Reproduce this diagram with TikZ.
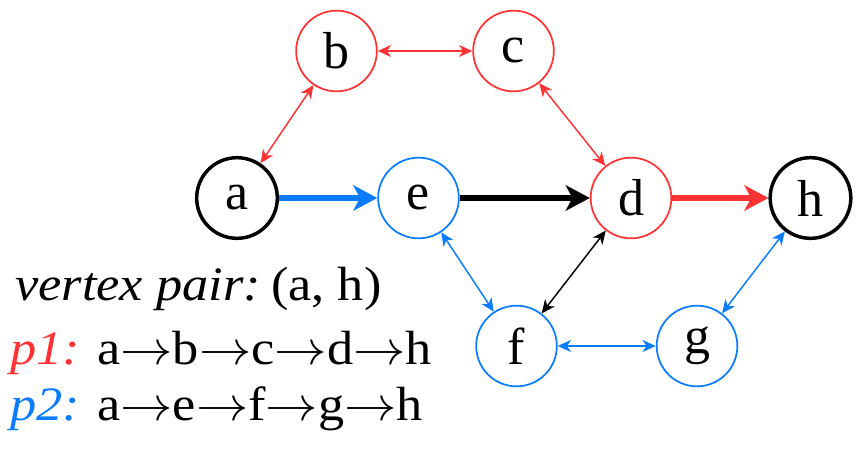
\documentclass[tikz,border=0pt]{standalone}
\usepackage{fontspec}
\setmainfont{Liberation Serif}
\usepackage{graphicx}
\usetikzlibrary{arrows.meta}
\definecolor{pred}{RGB}{255,51,51}
\definecolor{pblue}{RGB}{10,125,255}
\newcommand{\parrow}{\scalebox{3.6}{\fontsize{10}{12}\selectfont$\rightarrow$}}
\tikzset{
  vtx/.style={circle,draw,line width=1.3pt,minimum size=60.5pt,inner sep=0pt,font=\fontsize{39}{42}\selectfont},
  thickv/.style={vtx,line width=2.6pt},
  thin/.style={line width=1.1pt,{Stealth[length=10pt,width=9pt,inset=3pt]}-{Stealth[length=10pt,width=9pt,inset=3pt]}},
  fat/.style={line width=3.8pt,-{Stealth[length=18pt,width=19pt,inset=5pt]}},
  lbl/.style={anchor=base west,inner sep=0pt,font=\fontsize{36}{40}\selectfont}
}
\begin{document}
\begin{tikzpicture}[x=0.75pt,y=-0.75pt]
\useasboundingbox (0,0) rectangle (865,457);
\node[thickv] (a) at (237,198) {a};
\node[vtx,draw=pred] (b) at (336.5,51) {b};
\node[vtx,draw=pred] (c) at (513.5,51) {c};
\node[vtx,draw=pred] (d) at (631,198) {d};
\node[vtx,draw=pblue] (e) at (418.5,198) {e};
\node[vtx,draw=pblue] (f) at (516.5,346) {f};
\node[vtx,draw=pblue] (g) at (697,346) {g};
\node[thickv] (h) at (810.5,198) {h};
\draw[thin,pred] (a) -- (b);
\draw[thin,pred] (b) -- (c);
\draw[thin,pred] (c) -- (d);
\draw[thin,pblue] (e) -- (f);
\draw[thin,pblue] (f) -- (g);
\draw[thin,pblue] (g) -- (h);
\draw[thin,black] (d) -- (f);
\draw[fat,pblue] (a) -- (e);
\draw[fat,black] (e) -- (d);
\draw[fat,pred] (d) -- (h);
\node[lbl] (t1) at (15,300) {\scalebox{1.09}[1]{\textit{vertex pair:}\hspace{0.2em}(a, h)}};
\node[lbl] (t2) at (10,364) {\scalebox{1.09}[1]{\textcolor{pred}{\textit{p1:}} a\parrow b\parrow c\parrow d\parrow h}};
\node[lbl] (t3) at (10,420) {\scalebox{1.09}[1]{\textcolor{pblue}{\textit{p2:}} a\parrow e\parrow f\parrow g\parrow h}};
\end{tikzpicture}
\end{document}
